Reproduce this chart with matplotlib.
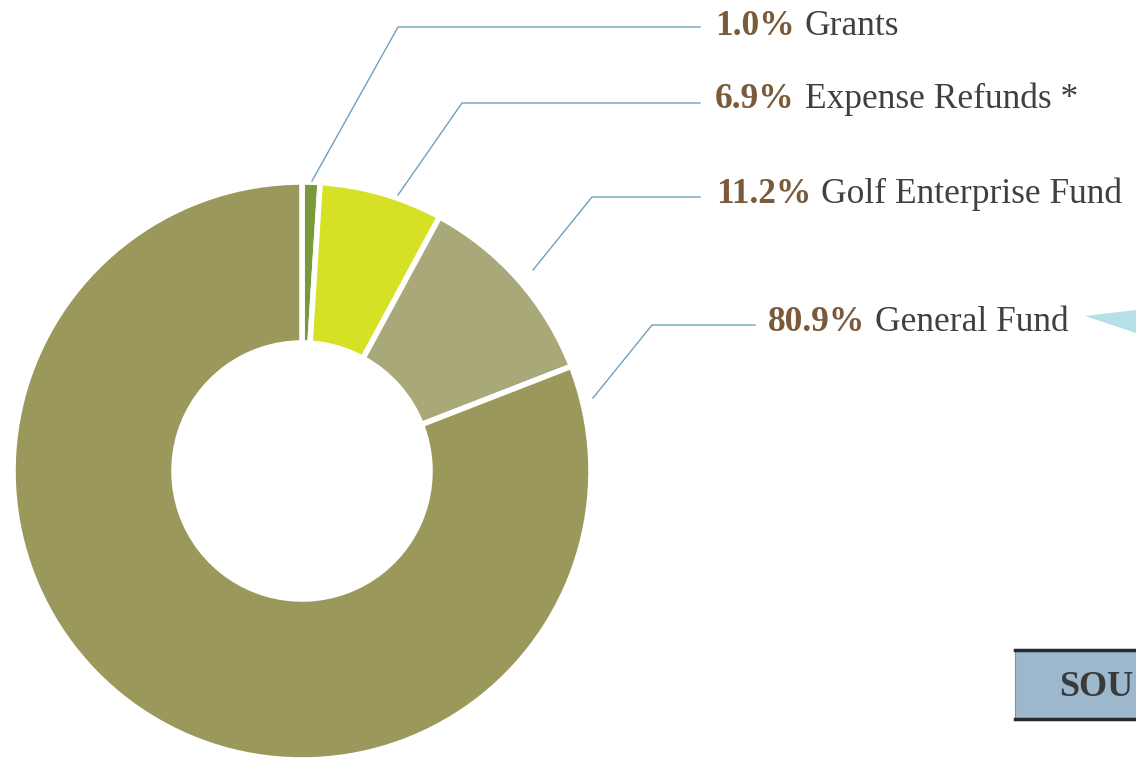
import matplotlib
matplotlib.use("Agg")
import matplotlib.pyplot as plt
from matplotlib.patches import Polygon, Rectangle

# ---- data ----
categories = ["Grants", "Expense Refunds *", "Golf Enterprise Fund", "General Fund"]
shares = [1.0, 6.9, 11.2, 80.9]
pct_labels = ["1.0%", "6.9%", "11.2%", "80.9%"]
colors = ["#7a9a3a", "#d6e024", "#a8a878", "#9a985a"]

W, H = 1136, 763
fig = plt.figure(figsize=(W / 100, H / 100), dpi=100)
ax = fig.add_axes([0, 0, 1, 1])

def Y(y):  # convert pixel-from-top to data y
    return H - y

cx, cy, R, r_in = 302, Y(471), 289, 128
wedges, _ = ax.pie(shares, colors=colors, startangle=90, counterclock=False,
                   center=(cx, cy), radius=R,
                   wedgeprops=dict(width=R - r_in, edgecolor="white", linewidth=4))
ax.set_xlim(0, W)
ax.set_ylim(0, H)
ax.set_aspect("auto")
ax.axis("off")

# leader lines (pixel coords, top origin)
line_col = "#6f9fc0"
leaders = [
    [(312, 181), (398, 27), (700, 27)],
    [(398, 195), (462, 103), (700, 103)],
    [(533, 270), (592, 197), (700, 197)],
    [(593, 398), (652, 325), (755, 325)],
]
text_pos = [(715, 35), (715, 108), (716, 203), (768, 331)]

for pts in leaders:
    ax.plot([p[0] for p in pts], [Y(p[1]) for p in pts], color=line_col, lw=1.0)

fig.canvas.draw()
renderer = fig.canvas.get_renderer()
fam = ["Liberation Serif", "DejaVu Serif"]
for (tx, ty), pct, cat in zip(text_pos, pct_labels, categories):
    t1 = ax.text(tx, Y(ty), pct, fontsize=25.5, fontweight="bold", color="#7a5a3a",
                 family=fam, va="baseline", ha="left")
    bb = t1.get_window_extent(renderer=renderer)
    ax.text(bb.x1 + 10, Y(ty), cat, fontsize=25.5, color="#404040",
            family=fam, va="baseline", ha="left")

# light blue pointer triangle
ax.add_patch(Polygon([(1085, Y(316)), (1136, Y(310)), (1136, Y(333))],
                     closed=True, facecolor="#b6e0e8", edgecolor="none"))

# SOURCES box (clipped at right edge)
ax.add_patch(Rectangle((1015, Y(720)), 200, 71, facecolor="#9db8cc",
                       edgecolor="#7f8f9a", lw=0.8))
ax.plot([1015, 1136], [Y(650), Y(650)], color="#2a2a2a", lw=2.5)
ax.plot([1015, 1136], [Y(719), Y(719)], color="#2a2a2a", lw=2.5)
ax.text(1059, Y(696), "SOU", fontsize=26, fontweight="bold", color="#3a3a3a",
        family=fam, va="baseline", ha="left", clip_on=True)

fig.savefig("out.png", dpi=100)
